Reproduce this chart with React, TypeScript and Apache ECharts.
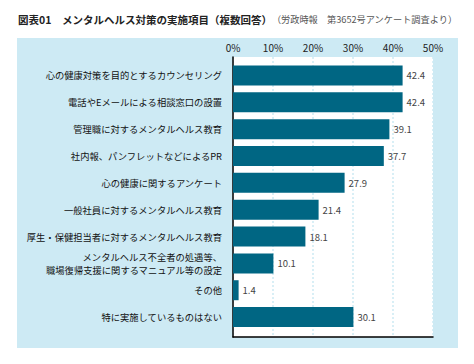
import React, { useEffect, useRef } from "react";
import * as echarts from "echarts";

const categories = [
  "心の健康対策を目的とするカウンセリング",
  "電話やEメールによる相談窓口の設置",
  "管理職に対するメンタルヘルス教育",
  "社内報、パンフレットなどによるPR",
  "心の健康に関するアンケート",
  "一般社員に対するメンタルヘルス教育",
  "厚生・保健担当者に対するメンタルヘルス教育",
  "メンタルヘルス不全者の処遇等、\n職場復帰支援に関するマニュアル等の設定",
  "その他",
  "特に実施しているものはない",
];
const values = [42.4, 42.4, 39.1, 37.7, 27.9, 21.4, 18.1, 10.1, 1.4, 30.1];
const titleMain = "図表01　メンタルヘルス対策の実施項目（複数回答）";
const titleSub = "（労政時報　第3652号アンケート調査より）";

const FONT = "'Noto Sans CJK JP', 'Noto Sans', sans-serif";

export default function App() {
  const ref = useRef<HTMLDivElement>(null);
  useEffect(() => {
    document.body.style.margin = "0";
    const chart = echarts.init(ref.current!, null, { renderer: "svg" });
    chart.setOption({
      animation: false,
      backgroundColor: "#ffffff",
      textStyle: { fontFamily: FONT },
      title: {
        left: 13,
        top: 9,
        text: `{a|${titleMain}}{b|${titleSub}}`,
        textStyle: {
          rich: {
            a: { fontSize: 10.5, fontWeight: "bold", color: "#222", fontFamily: FONT },
            b: { fontSize: 9.2, fontWeight: "normal", color: "#555", fontFamily: FONT },
          },
        },
      },
      graphic: [
        {
          type: "rect",
          z: -100,
          shape: { x: 17, y: 38, width: 441, height: 310 },
          style: { fill: "#cdeaf4" },
        },
      ],
      grid: [
        {
          left: 233,
          top: 57,
          width: 200,
          height: 280,
          show: true,
          backgroundColor: "#ffffff",
          borderWidth: 0,
        },
        {
          left: 233,
          top: 62,
          width: 200,
          height: 268.5,
        },
      ],
      xAxis: [
        {
          gridIndex: 0,
          type: "value",
          position: "top",
          min: 0,
          max: 50,
          interval: 10,
          axisLine: { show: true, lineStyle: { color: "#000", width: 1.5 } },
          axisTick: { show: false },
          axisLabel: {
            formatter: "{value}%",
            fontSize: 10,
            color: "#222",
            margin: 5,
            fontFamily: FONT,
          },
          splitLine: {
            show: true,
            lineStyle: { color: "#cdeaf4", type: [2, 2], width: 1.5 },
          },
        },
        {
          gridIndex: 1,
          type: "value",
          min: 0,
          max: 50,
          show: false,
        },
      ],
      yAxis: [
        {
          gridIndex: 0,
          type: "value",
          min: 0,
          max: 1,
          axisLine: { show: true, lineStyle: { color: "#000", width: 1.5 } },
          axisTick: { show: false },
          axisLabel: { show: false },
          splitLine: { show: false },
        },
        {
          gridIndex: 1,
          type: "category",
          inverse: true,
          data: categories,
          axisLine: { show: false },
          axisTick: { show: false },
          axisLabel: {
            margin: 11,
            fontSize: 9.3,
            color: "#111",
            lineHeight: 12.5,
            align: "right",
            fontFamily: FONT,
          },
        },
      ],
      series: [
        {
          type: "bar",
          xAxisIndex: 1,
          yAxisIndex: 1,
          data: values,
          barWidth: 20,
          itemStyle: { color: "#006683" },
          label: {
            show: true,
            position: "right",
            distance: 4,
            fontSize: 9.5,
            color: "#444",
            fontFamily: FONT,
            formatter: (p: any) => p.value.toFixed(1),
          },
        },
      ],
    });
    return () => chart.dispose();
  }, []);
  return <div ref={ref} style={{ width: 474, height: 364 }} />;
}
